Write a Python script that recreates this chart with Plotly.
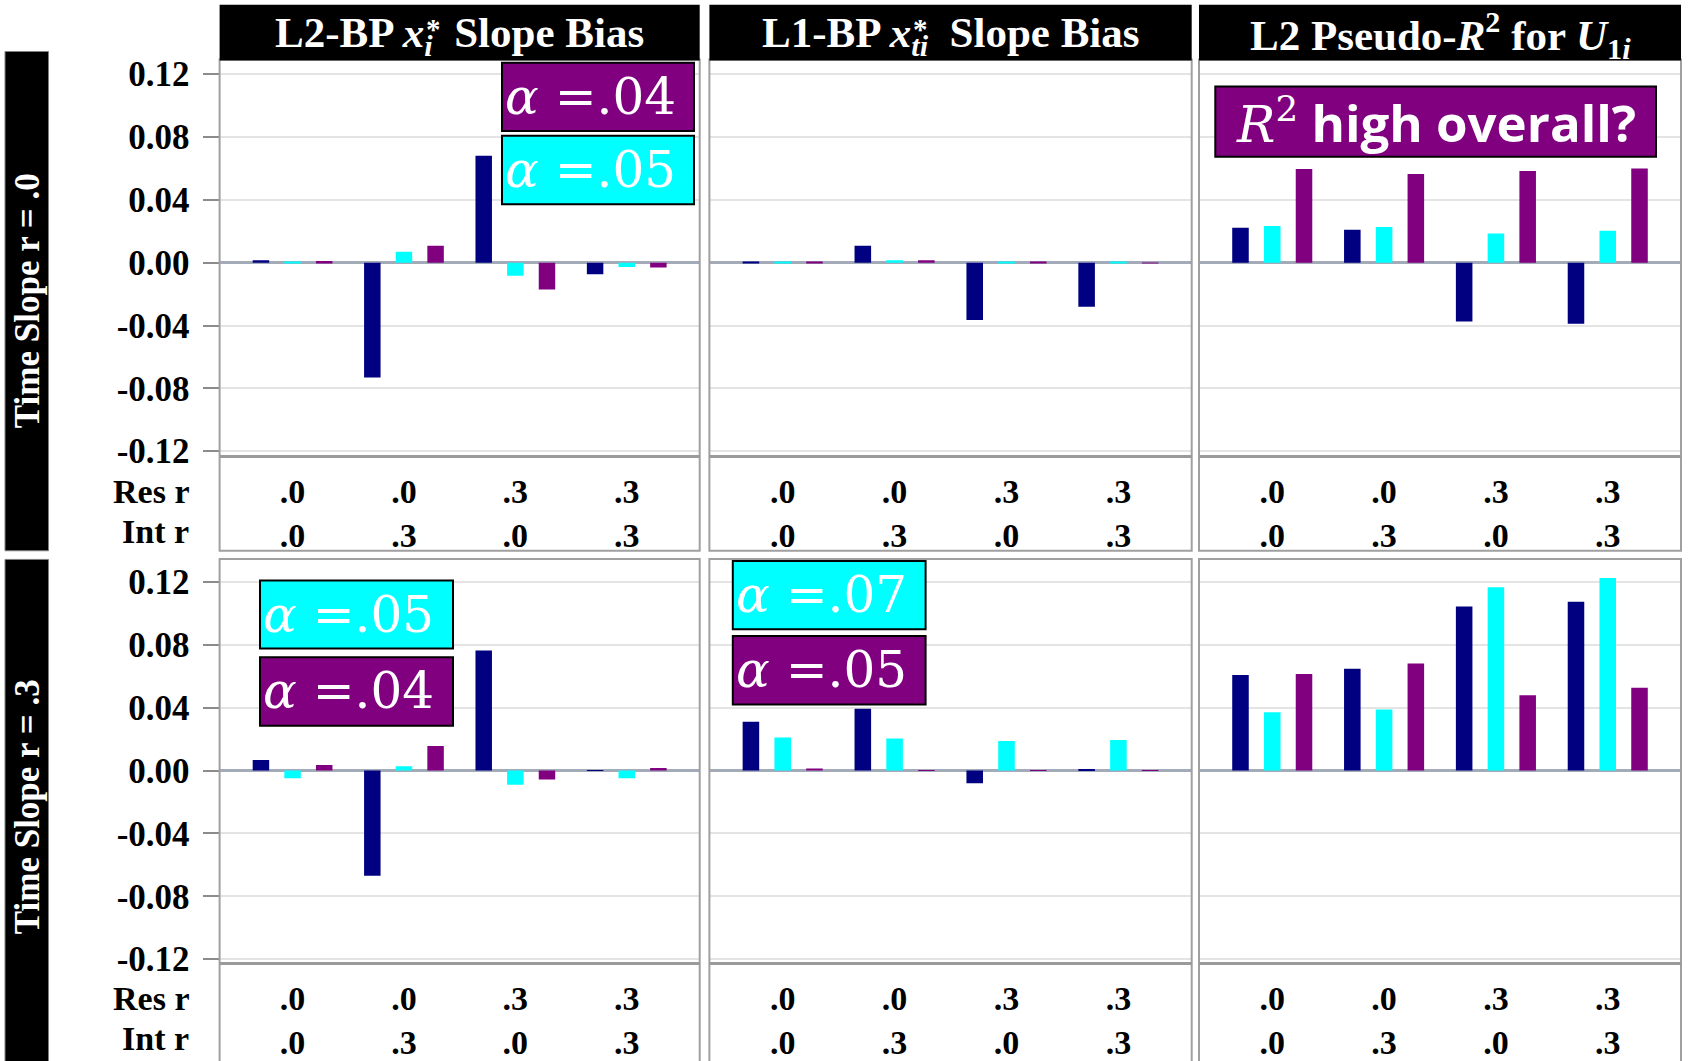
import plotly.graph_objects as go

W, H = 1688, 1061

# ---------------- data ----------------
res_r = [".0", ".0", ".3", ".3"]
int_r = [".0", ".3", ".0", ".3"]
categories = ["Res .0 / Int .0", "Res .0 / Int .3", "Res .3 / Int .0", "Res .3 / Int .3"]
series_names = ["Series 1", "Series 2", "Series 3"]
series_colors = ["#000080", "#00FFFF", "#800080"]
panel_titles = [
    "L2-BP <i>x</i><sub><i>i</i></sub>\u2002Slope Bias",
    "L1-BP <i>x</i><sub><i>ti</i></sub>\u2002Slope Bias",
    "L2 Pseudo-<i>R</i><sup>2</sup> for <i>U</i><sub>1<i>i</i></sub>",
]
row_titles = ["Time Slope r = .0", "Time Slope r = .3"]
y_tick_vals = [-0.12, -0.08, -0.04, 0.0, 0.04, 0.08, 0.12]

# Time Slope r = .0
r0_l2bp_navy = [0.0015, -0.073, 0.068, -0.0073]
r0_l2bp_cyan = [0.0007, 0.007, -0.0083, -0.0028]
r0_l2bp_purple = [0.001, 0.0108, -0.017, -0.003]
r0_l1bp_navy = [0.0004, 0.0108, -0.0365, -0.028]
r0_l1bp_cyan = [0.0003, 0.0015, 0.0003, 0.0003]
r0_l1bp_purple = [0.0003, 0.0015, 0.0003, -0.0003]
r0_r2_navy = [0.0223, 0.021, -0.0375, -0.0388]
r0_r2_cyan = [0.0233, 0.0227, 0.0185, 0.0204]
r0_r2_purple = [0.0596, 0.0564, 0.0583, 0.060]
# Time Slope r = .3
r1_l2bp_navy = [0.0068, -0.0669, 0.0764, 0.0003]
r1_l2bp_cyan = [-0.0049, 0.0027, -0.009, -0.0049]
r1_l2bp_purple = [0.0036, 0.0156, -0.0057, 0.0017]
r1_l1bp_navy = [0.031, 0.0394, -0.008, 0.0006]
r1_l1bp_cyan = [0.0211, 0.0204, 0.0188, 0.0194]
r1_l1bp_purple = [0.0013, 0.0003, 0.0002, 0.0003]
r1_r2_navy = [0.0608, 0.0648, 0.1044, 0.1074]
r1_r2_cyan = [0.0371, 0.0388, 0.1167, 0.1226]
r1_r2_purple = [0.0614, 0.0682, 0.0479, 0.0527]

panels = [
    [[r0_l2bp_navy, r0_l2bp_cyan, r0_l2bp_purple],
     [r0_l1bp_navy, r0_l1bp_cyan, r0_l1bp_purple],
     [r0_r2_navy, r0_r2_cyan, r0_r2_purple]],
    [[r1_l2bp_navy, r1_l2bp_cyan, r1_l2bp_purple],
     [r1_l1bp_navy, r1_l1bp_cyan, r1_l1bp_purple],
     [r1_r2_navy, r1_r2_cyan, r1_r2_purple]],
]

# ---------------- layout geometry (pixels) ----------------
SERIF = "Liberation Serif"
MATH = "DejaVu Serif"
def X(px): return px / W
def Y(py):
    py = (py - 5.24) / 0.978   # compensate observed vertical placement
    return 1 - py / H

col_x = [(219.6, 699.7), (709.4, 1191.7), (1199.0, 1681.0)]
row_plot_y = [(61.0, 459.3), (563.3, 969.0)]      # top, bottom (px)
row_cell_bottom = [554.0, 1085.0]
row_ranges = [[-0.1234, 0.1287], [-0.1228, 0.134]]
row_label_y = [(494, 535), (1004, 1044)]

fig = go.Figure()
layout = dict(
    width=W, height=H, margin=dict(l=0, r=0, t=0, b=0),
    paper_bgcolor="white", plot_bgcolor="white",
    barmode="group", bargap=0.148, bargroupgap=0.479,
    showlegend=False,
)
shapes, annotations = [], []

tick_text = [f"{a}<br>{b}" for a, b in zip(res_r, int_r)]

for r in range(2):
    for c in range(3):
        idx = r * 3 + c + 1
        xs = "" if idx == 1 else str(idx)
        for s in range(3):
            fig.add_trace(go.Bar(
                x=categories, y=panels[r][c][s], name=series_names[s],
                marker=dict(color=series_colors[s], line=dict(width=0)),
                xaxis="x" + xs, yaxis="y" + xs, showlegend=False,
            ))
        x0, x1 = col_x[c]
        yt, yb = row_plot_y[r]
        layout["xaxis" + xs] = dict(
            domain=[X(x0), X(x1)], anchor="y" + xs, type="category",
            range=[-0.655, 3.655], showgrid=False, zeroline=False, showline=False,
            tickmode="array", tickvals=categories, ticktext=tick_text, ticks="",
            tickfont=dict(family=SERIF, size=34, color="black", weight="bold"),
            ticklabelstandoff=11, fixedrange=True,
        )
        layout["yaxis" + xs] = dict(
            domain=[Y(yb), Y(yt)], anchor="x" + xs, range=row_ranges[r],
            tickmode="array", tickvals=y_tick_vals,
            ticktext=[f"{v:.2f}" for v in y_tick_vals],
            showticklabels=(c == 0), ticks="outside" if c == 0 else "",
            ticklen=16, tickwidth=2, tickcolor="#8c8c8c",
            tickfont=dict(family=SERIF, size=35, color="black", weight="bold"),
            ticklabelstandoff=6,
            showgrid=True, gridcolor="#e4e4e4", gridwidth=2,
            zeroline=True, zerolinecolor="#a3abb8", zerolinewidth=3,
            showline=False, fixedrange=True,
        )
        # cell frame
        shapes.append(dict(type="rect", xref="paper", yref="paper",
                           x0=X(x0), x1=X(x1), y0=Y(row_cell_bottom[r]), y1=Y(yt - 1),
                           line=dict(color="#a0a0a0", width=2), layer="above"))
        # separator between plot and labels
        shapes.append(dict(type="line", xref="paper", yref="paper",
                           x0=X(x0), x1=X(x1), y0=Y(yb), y1=Y(yb),
                           line=dict(color="#9a9a9a", width=3), layer="above"))
    # row label texts
    for txt, ly in zip(["Res r", "Int r"], row_label_y[r]):
        annotations.append(dict(text=txt, xref="paper", yref="paper", x=X(191), y=Y(ly),
                                xanchor="right", yanchor="middle", showarrow=False,
                                font=dict(family=SERIF, size=34, color="black", weight="bold")))

# column headers
star_x = [424.0, 911.0, None]
for c in range(3):
    x0, x1 = col_x[c]
    shapes.append(dict(type="rect", xref="paper", yref="paper", x0=X(x0), x1=X(x1),
                       y0=Y(61), y1=Y(5), fillcolor="black", line=dict(width=0), layer="above"))
    annotations.append(dict(text=panel_titles[c], xref="paper", yref="paper",
                            x=X((x0 + x1) / 2), y=Y(36), xanchor="center", yanchor="middle",
                            showarrow=False,
                            font=dict(family=SERIF, size=43, color="white", weight="bold")))
    if star_x[c] is not None:
        annotations.append(dict(text="*", xref="paper", yref="paper",
                                x=X(star_x[c]), y=Y(29), xanchor="left", yanchor="middle",
                                showarrow=False,
                                font=dict(family=SERIF, size=29, color="white", weight="bold")))

# row strips
strip_y = [(52, 554), (562.7, 1085)]
for r in range(2):
    t, b = strip_y[r]
    shapes.append(dict(type="rect", xref="paper", yref="paper", x0=X(5), x1=X(48.5),
                       y0=Y(b), y1=Y(t), fillcolor="black",
                       line=dict(color="#808080", width=1), layer="above"))
    cy = (t + min(b, 1061)) / 2
    annotations.append(dict(text=row_titles[r], xref="paper", yref="paper",
                            x=X(27), y=Y(cy), textangle=-90, showarrow=False,
                            xanchor="center", yanchor="middle",
                            font=dict(family=SERIF, size=35, color="white", weight="bold")))

# alpha boxes
boxes = [
    # x0, x1, y_top, y_bottom, fill, text
    (502, 694, 63.3, 132.0, "#800080", "<i>α</i> =.04"),
    (502, 694, 136.7, 205.7, "#00FFFF", "<i>α</i> =.05"),
    (260, 453, 584.0, 652.3, "#00FFFF", "<i>α</i> =.05"),
    (260, 453, 661.0, 730.0, "#800080", "<i>α</i> =.04"),
    (732.8, 925.6, 564.3, 633.0, "#00FFFF", "<i>α</i> =.07"),
    (732.8, 925.6, 639.7, 708.7, "#800080", "<i>α</i> =.05"),
]
for x0, x1, yt, yb, fill, txt in boxes:
    shapes.append(dict(type="rect", xref="paper", yref="paper", x0=X(x0), x1=X(x1),
                       y0=Y(yb), y1=Y(yt), fillcolor=fill,
                       line=dict(color="black", width=2), layer="above"))
    annotations.append(dict(text=txt, xref="paper", yref="paper",
                            x=X((x0 + x1) / 2 - 8), y=Y((yt + yb) / 2), showarrow=False,
                            xanchor="center", yanchor="middle",
                            font=dict(family=MATH, size=50, color="white")))

# R^2 box
shapes.append(dict(type="rect", xref="paper", yref="paper", x0=X(1215.3), x1=X(1656),
                   y0=Y(157.7), y1=Y(87.3), fillcolor="#800080",
                   line=dict(color="black", width=2), layer="above"))
annotations.append(dict(
    text=f"<span style='font-family:{MATH}'><i>R</i><sup>2</sup></span> <b>high overall?</b>",
    xref="paper", yref="paper", x=X(1435.6), y=Y(122.5), showarrow=False,
    xanchor="center", yanchor="middle",
    font=dict(family="Open Sans", size=51, color="white")))

layout["shapes"] = shapes
layout["annotations"] = annotations
fig.update_layout(**layout)
fig.write_html(
    "out.html",
    config={"displayModeBar": False},
    post_script="document.body.style.margin='0px';document.body.style.padding='0px';"
                "document.body.style.overflow='hidden';",
)
